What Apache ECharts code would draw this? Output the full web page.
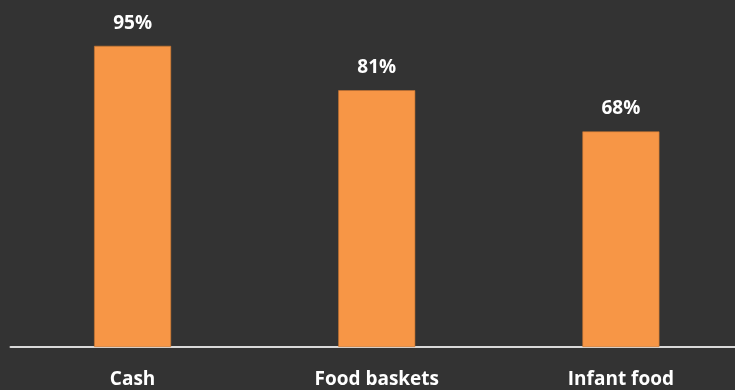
<!DOCTYPE html>
<html>
<head>
<meta charset="utf-8">
<script src="https://cdn.jsdelivr.net/npm/echarts@6/dist/echarts.min.js"></script>
<style>
  html, body { margin: 0; padding: 0; background: #333333; }
  #main { width: 735px; height: 390px; }
</style>
</head>
<body>
<div id="main"></div>
<script>
var categories = ['Cash', 'Food baskets', 'Infant food'];
var values = [95, 81, 68];

var myChart = echarts.init(document.getElementById('main'));
var option = {
    backgroundColor: '#333333',
    animation: false,
    grid: {
        left: 10.5,
        width: 732.5,
        top: 30,
        bottom: 43,
        outerBoundsMode: 'none'
    },
    xAxis: {
        type: 'category',
        data: categories,
        axisLine: {
            lineStyle: { color: '#d9d9d9', width: 2 }
        },
        axisTick: { show: false },
        axisLabel: {
            color: '#ffffff',
            fontFamily: 'Open Sans',
            fontWeight: 'bold',
            fontSize: 19,
            margin: 23
        }
    },
    yAxis: {
        type: 'value',
        min: 0,
        max: 100,
        show: false,
        splitLine: { show: false }
    },
    series: [{
        type: 'bar',
        data: values,
        barWidth: 77,
        itemStyle: {
            color: '#F79646',
            borderColor: '#c87530',
            borderWidth: 0.6
        },
        label: {
            show: true,
            position: 'top',
            distance: 13,
            formatter: '{c}%',
            color: '#ffffff',
            fontFamily: 'Open Sans',
            fontWeight: 'bold',
            fontSize: 19
        }
    }]
};

myChart.setOption(option);
</script>
</body>
</html>
